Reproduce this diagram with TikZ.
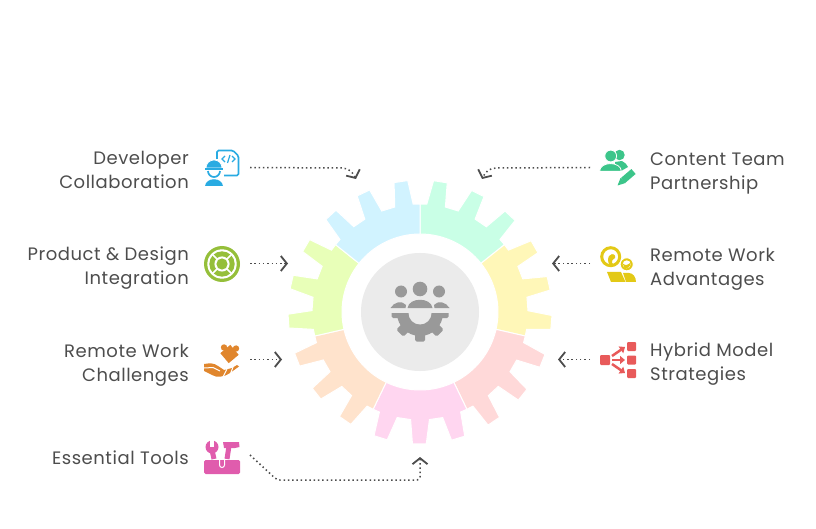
\documentclass[tikz,border=0pt]{standalone}
\usepackage{fontspec}
\setmainfont[LetterSpace=3]{Poppins}
\usetikzlibrary{arrows.meta,positioning}
\definecolor{inkgrey}{HTML}{4D4D4D}
\definecolor{hubgrey}{HTML}{EBEBEB}
\definecolor{icongrey}{HTML}{999999}
\definecolor{devblue}{HTML}{29ABE2}
\definecolor{prodgreen}{HTML}{95BF3A}
\definecolor{chalorange}{HTML}{E0862D}
\definecolor{toolpink}{HTML}{E05CAD}
\definecolor{teamgreen}{HTML}{3CC58A}
\definecolor{advyellow}{HTML}{E3C916}
\definecolor{hybridred}{HTML}{E85A5A}
\definecolor{secteal}{HTML}{C9FFE6}
\definecolor{secyellow}{HTML}{FFF7B8}
\definecolor{secred}{HTML}{FFD9D9}
\definecolor{secpink}{HTML}{FFD6F0}
\definecolor{secorange}{HTML}{FFE3CC}
\definecolor{seclime}{HTML}{E8FFB8}
\definecolor{secblue}{HTML}{D1F3FF}
\begin{document}
\begin{tikzpicture}[x=1pt,y=1pt,
  textl/.style = {align=left,anchor=west,text=inkgrey,font=\fontsize{18}{24}\selectfont,inner sep=0pt},
  textr/.style = {align=right,anchor=east,text=inkgrey,font=\fontsize{18}{24}\selectfont,inner sep=0pt},
  conn/.style = {draw=inkgrey,line width=1.5pt,dash pattern=on 1.5pt off 2.8pt,-{Straight Barb[length=6pt,width=15pt,line width=1.8pt,color=inkgrey]}},
  icon/.style = {shift={(#1)},yscale=-1},]
\useasboundingbox (0,0) rectangle (816,528);
\coordinate (hub) at (420,216);
% gear
\foreach \col [count=\i] in {secteal,secyellow,secred,secpink,secorange,seclime,secblue}{
\begin{scope}[shift={(hub)},rotate=-(\i-1)*51.4286]
\fill[\col,draw=white,line width=1pt] (90:78)--(90:108)--(86.4:108)--(84.1:132)--(78.1:132)--(76.4:108)
  --(69.3:108)--(67:132)--(61:132)--(59.3:108)
  --(52.1:108)--(49.9:132)--(43.9:132)--(42.2:108)--(38.57:108)--(38.57:78)
  arc[start angle=38.57,end angle=90,radius=78]--cycle;
\end{scope}
}
\fill[white] (hub) circle (77.5);
\fill[hubgrey] (hub) circle (59);
% hub icon
\begin{scope}[icon={420,215},icongrey]
\fill (0,-24) circle (7.3);
\fill (-19,-21.5) circle (6);
\fill (19,-21.5) circle (6);
\fill (-12.5,-5) .. controls (-11,-16) and (11,-16) .. (12.5,-5)--cycle;
\fill (-29.5,-5) .. controls (-26,-11) and (-18,-13) .. (-14,-8)--(-14.5,-5)--cycle;
\fill (29.5,-5) .. controls (26,-11) and (18,-13) .. (14,-8)--(14.5,-5)--cycle;
\begin{scope}
\clip (-30,0) rectangle (30,32);
\fill (0,0) circle (23);
\foreach \a in {0,45,90,135,180}{
\fill[rotate=\a,rounded corners=1.5pt] (18,-5) rectangle (28.5,5);
}
\fill[hubgrey] (0,0) circle (11.5);
\end{scope}
\end{scope}
% labels
\node[textr] (devlabel) at (189,358) {Developer\\Collaboration};
\node[textr] (prodlabel) at (189,260) {Product \& Design\\Integration};
\node[textr] (challabel) at (189,163) {Remote Work\\Challenges};
\node[textr] (toollabel) at (189,70) {Essential Tools};
\node[textl] (teamlabel) at (650,355) {Content Team\\Partnership};
\node[textl] (advlabel) at (650,259) {Remote Work\\Advantages};
\node[textl] (hybridlabel) at (650,164) {Hybrid Model\\Strategies};
% connectors
\coordinate (devstart) at (250,360.5);
\coordinate (devbend) at (342,360);
\coordinate (devend) at (356,349);
\coordinate (prodstart) at (250,264.5);
\coordinate (prodend) at (288,264.5);
\coordinate (chalstart) at (250,168.5);
\coordinate (chalend) at (282,168.5);
\coordinate (toolstart) at (250,73);
\coordinate (toolbend) at (277,48);
\coordinate (toolcorner) at (420,48);
\coordinate (toolend) at (420,71);
\coordinate (teamstart) at (590,360.5);
\coordinate (teambend) at (496,360);
\coordinate (teamend) at (482,349);
\coordinate (advstart) at (590,264.5);
\coordinate (advend) at (552,264.5);
\coordinate (hybridstart) at (590,168.5);
\coordinate (hybridend) at (558,168.5);
\draw[conn] (devstart)--(devbend) to[out=0,in=115] (devend);
\draw[conn] (prodstart)--(prodend);
\draw[conn] (chalstart)--(chalend);
\draw[conn,rounded corners=3pt] (toolstart)--(toolbend)--(toolcorner)--(toolend);
\draw[conn] (teamstart)--(teambend) to[out=180,in=65] (teamend);
\draw[conn] (advstart)--(advend);
\draw[conn] (hybridstart)--(hybridend);
% developer icon
\begin{scope}[icon={222,360},devblue]
\draw[line width=1.7pt,rounded corners=1.5pt] (-5,-9)--(-5,-17.5)--(11,-17.5)--(16.5,-12)--(16.5,7.5)--(2,7.5);
\draw[line width=1.2pt] (3,-12)--(0,-9)--(3,-6);
\draw[line width=1.2pt] (5.5,-5)--(8,-13);
\draw[line width=1.2pt] (10,-12)--(13,-9)--(10,-6);
\fill[draw=white,line width=.6pt] (-16,0) arc[start angle=180,end angle=360,radius=8]--cycle;
\fill (-17,0) rectangle (1,2);
\draw[line width=1.7pt] (-14,3) arc[start angle=180,end angle=0,radius=6];
\fill (-17,18) .. controls (-16,9) and (0,9) .. (1,18)--cycle;
\end{scope}
% product icon
\begin{scope}[icon={222,264},prodgreen]
\fill (0,0) circle (18);
\fill[white] (0,0) circle (14.7);
\fill (0,0) circle (12.7);
\fill[white] (0,0) circle (7.6);
\fill (0,0) circle (5.6);
\foreach \a in {45,135,225,315}{
\draw[white,line width=1.5pt] (\a:7)--(\a:13.5);
}
\end{scope}
% challenge icon
\begin{scope}[icon={222,168},chalorange]
\begin{scope}[shift={(7.5,-6)},rotate=-40]
\fill (-6.5,-6.5) rectangle (6.5,6.5);
\fill (0,-8.5) circle (3.2);
\fill (8.5,0) circle (3.2);
\end{scope}
\fill (-18,4) .. controls (-12,3) and (-8,3) .. (-4,6)--(2,10)--(10,8)--(15,5)--(17,6.5)--(8,13)
  .. controls (3,17) and (-6,18) .. (-10,15)--(-18,11)--cycle;
\draw[white,line width=1pt] (-18,8)--(-9,7.5)--(-2,11);
\draw[white,line width=1pt] (1,17)--(5,9);
\draw[white,line width=1pt] (8,15)--(11,7);
\end{scope}
% tools icon
\begin{scope}[icon={222,70},toolpink]
\fill[rounded corners=1.5pt] (-18,2) rectangle (18,16);
\draw[white,line width=1pt] (-2.5,2)--(-2.5,7) arc[start angle=180,end angle=0,radius=2.5]--(2.5,2);
\fill (-10,-11) circle (6.5);
\fill[white] (-12,-18) rectangle (-8,-11);
\draw[line width=5pt] (-10,-8)--(-8,1);
\fill (1,-16)--(17,-16)--(17.5,-11)--(13,-10)--(2,-10)--cycle;
\draw[line width=5pt] (7,-12)--(5,1);
\end{scope}
% team icon
\begin{scope}[icon={618,360},teamgreen]
\fill (1.5,-13) circle (5.2);
\fill (-3,3)--(-3,-6)--(4,-7) .. controls (7,-6) and (9,-3) .. (10,-1)--(3,3)--cycle;
\fill[draw=white,line width=.8pt] (-7.3,-12) circle (5.9);
\fill[draw=white,line width=.8pt] (-18.5,3.4) .. controls (-18,-7) and (3,-7) .. (3.4,3.4)--cycle;
\draw[white,line width=9pt] (16,3)--(3,14);
\draw[line width=6.5pt] (15.5,3.5)--(5,12.5);
\fill (2.5,10)--(7.5,15)--(-0.5,17.5)--cycle;
\end{scope}
% advantage icon
\begin{scope}[icon={618,264},advyellow]
\draw[line width=3pt] (-7.3,-7.3) circle (9);
\fill (-9,-8) .. controls (-5,-12) and (-2,-9) .. (-3,-6) .. controls (-5,-4) and (-7,-4) .. (-6,-1)--(-3,1)--(-8,1) .. controls (-11,-2) and (-10,-6) .. (-9,-8)--cycle;
\fill[draw=white,line width=1pt] (8.7,0.3) circle (6.6);
\fill[white] (8.7,0.3) circle (4);
\fill (4.7,-0.5) .. controls (7,2) and (11,1) .. (12.7,-2) .. controls (13,3) and (9,5) .. (6.5,4)--cycle;
\fill (-11,8)--(3,8)--(7.5,18)--(-7,18)--cycle;
\fill (8,18)--(5,9)--(11,9) .. controls (15,9) and (18,13) .. (18,18)--cycle;
\end{scope}
% hybrid icon
\begin{scope}[icon={618,168},hybridred]
\fill[rounded corners=1pt] (-18,-5) rectangle (-8,5);
\fill[rounded corners=1pt] (9,-18) rectangle (18,-9);
\fill[rounded corners=1pt] (9,-4.5) rectangle (18,4.5);
\fill[rounded corners=1pt] (9,9) rectangle (18,18);
\draw[line width=2.5pt,-{Triangle[length=5pt,width=8pt]}] (-6,-4)--(7,-13);
\draw[line width=2.5pt,-{Triangle[length=5pt,width=8pt]}] (-6,0)--(7,0);
\draw[line width=2.5pt,-{Triangle[length=5pt,width=8pt]}] (-6,4)--(7,13);
\end{scope}
\end{tikzpicture}
\end{document}
